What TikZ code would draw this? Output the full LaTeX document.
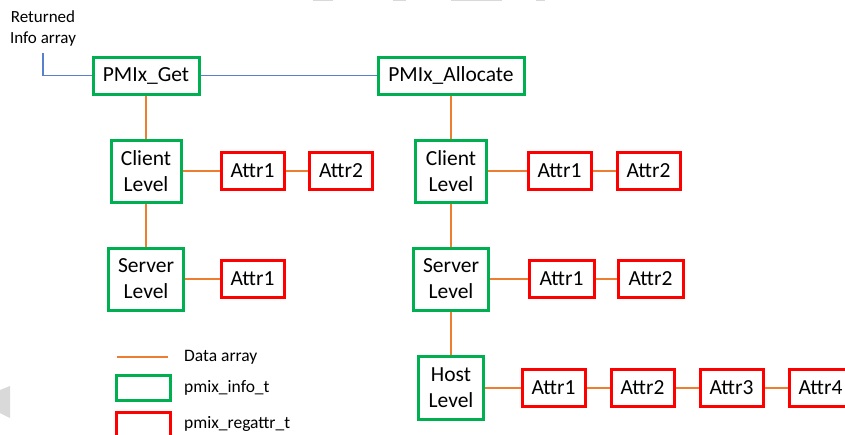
\documentclass[tikz,border=0pt]{standalone}
\usepackage{fontspec}
\setmainfont{Carlito}
\begin{document}
\begin{tikzpicture}[x=1pt,y=-1pt,
    info/.style={draw=infogreen,line width=3pt,fill=white,inner sep=0pt,align=center,
      minimum height=62pt,font=\fontsize{21.5}{26}\selectfont},
    attr/.style={draw=attrred,line width=3pt,fill=white,inner sep=0pt,
      minimum width=63pt,minimum height=37pt,font=\fontsize{21.5}{24}\selectfont},
    data/.style={draw=dataorange,line width=2pt},
    ret/.style={draw=retblue,line width=1.6pt},
    legtext/.style={anchor=west,inner sep=0pt,font=\fontsize{17.5}{20}\selectfont}]
    \definecolor{infogreen}{RGB}{0,176,80}
    \definecolor{attrred}{RGB}{255,0,0}
    \definecolor{dataorange}{RGB}{237,125,49}
    \definecolor{retblue}{RGB}{88,128,205}
    \definecolor{bitgrey}{RGB}{217,217,217}
    \useasboundingbox (0,0) rectangle (845,434);
    % stray grey bits of the screenshot
    \fill[bitgrey] (313,0) rectangle (333,1.3);
    \fill[bitgrey] (393,0) rectangle (406,1.3);
    \fill[bitgrey] (451,0) rectangle (502,1.3);
    \fill[bitgrey] (536,0) rectangle (545,1.3);
    \fill[bitgrey] (0,390) -- (10,386) -- (10,418) -- (0,413) -- cycle;
    % calls
    \node[info,minimum width=106pt,minimum height=37pt] (get) at (146,75.5) {PMIx\_Get};
    \node[info,minimum width=146pt,minimum height=37pt] (alloc) at (451,75.5) {PMIx\_Allocate};
    \node[align=center,inner sep=0pt,font=\fontsize{17}{21}\selectfont] (retlab) at (43,28) {Returned\\Info array};
    \coordinate (retend) at (43,53);
    \draw[ret] (retend) |- (get.west);
    \draw[ret] (get.east) -- (alloc.west);
    % PMIx_Get side
    \node[info,minimum width=70pt] (gcl) at (146,171) {Client\\Level};
    \node[info,minimum width=75pt] (gsv) at (146,279) {Server\\Level};
    \node[attr] (gca1) at (252.5,171) {Attr1};
    \node[attr] (gca2) at (341,171) {Attr2};
    \node[attr] (gsa1) at (252.5,279) {Attr1};
    \draw[data] (get) -- (gcl);
    \draw[data] (gcl) -- (gsv);
    \draw[data] (gcl) -- (gca1);
    \draw[data] (gca1) -- (gca2);
    \draw[data] (gsv) -- (gsa1);
    % PMIx_Allocate side
    \node[info,minimum width=71pt] (acl) at (451,171) {Client\\Level};
    \node[info,minimum width=75pt] (asv) at (451,279) {Server\\Level};
    \node[info,minimum width=65pt,minimum height=63pt] (aho) at (451,387.5) {Host\\Level};
    \node[attr] (aca1) at (559.5,171) {Attr1};
    \node[attr] (aca2) at (648.5,171) {Attr2};
    \node[attr,minimum width=65pt] (asa1) at (561.5,279) {Attr1};
    \node[attr,minimum width=65pt] (asa2) at (650.5,279) {Attr2};
    \foreach \i/\x in {1/553.5,2/642.5,3/731.5,4/820.5}
        \node[attr] (aha\i) at (\x,387.5) {Attr\i};
    \draw[data] (alloc) -- (acl);
    \draw[data] (acl) -- (asv);
    \draw[data] (asv) -- (aho);
    \draw[data] (acl) -- (aca1);
    \draw[data] (aca1) -- (aca2);
    \draw[data] (asv) -- (asa1);
    \draw[data] (asa1) -- (asa2);
    \draw[data] (aho) -- (aha1);
    \foreach \i/\j in {1/2,2/3,3/4}
        \draw[data] (aha\i) -- (aha\j);
    % legend
    \draw[data] (117,357) -- (168,357);
    \draw[infogreen,line width=3pt] (116,375) rectangle (170,400);
    \draw[attrred,line width=3pt] (116,412) rectangle (170,440);
    \node[legtext] (legdata) at (184,357) {Data array};
    \node[legtext] (leginfo) at (184,388) {pmix\_info\_t};
    \node[legtext] (legattr) at (184,424) {pmix\_regattr\_t};
\end{tikzpicture}
\end{document}
